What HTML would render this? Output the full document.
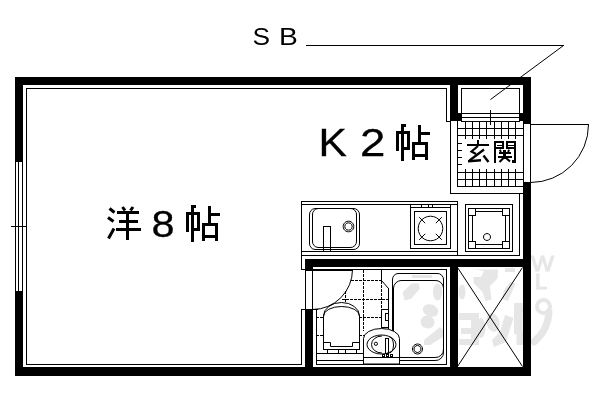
<!DOCTYPE html>
<html><head><meta charset="utf-8"><style>
html,body{margin:0;padding:0;background:#fff;width:600px;height:400px;overflow:hidden}
svg{display:block;filter:grayscale(1)}
text{font-family:"Liberation Sans",sans-serif;fill:#000}
</style></head><body>
<svg width="600" height="400" viewBox="0 0 600 400">
<rect width="600" height="400" fill="#fff"/>
<g fill="#e6e6e6"><rect x="412" y="275" width="20" height="3"/><polygon points="402.5,292.5 411.5,283.5 419,283.5 419.7,288.7 411.5,298.5 404.7,300.7"/><ellipse cx="437.5" cy="292" rx="4.5" ry="8.5" transform="rotate(0 437.5 292)"/><ellipse cx="462" cy="292" rx="3.5" ry="7.5" transform="rotate(0 462 292)"/><polygon points="475,269.5 498,269.5 497.5,278.5 490,286 491.5,299.5 485.5,301 482.5,292 473.5,283 473.5,277 481,277 484,271"/><polygon points="511,281.5 515.5,284 508,301 502,299 504,290"/><rect x="505" y="268" width="10" height="4"/><ellipse cx="518.5" cy="310" rx="4.5" ry="6" transform="rotate(0 518.5 310)"/><ellipse cx="430.5" cy="310.5" rx="8" ry="6" transform="rotate(20 430.5 310.5)"/><ellipse cx="427.5" cy="322" rx="7" ry="6.5" transform="rotate(20 427.5 322)"/><polygon points="424,340 440,327 443,330 443,337 430,345 424,345"/><rect x="459" y="313" width="20" height="7"/><rect x="471" y="313" width="8" height="32"/><rect x="461" y="328" width="18" height="6"/><rect x="459" y="339" width="20" height="6"/><ellipse cx="481" cy="328" rx="4.5" ry="10" transform="rotate(0 481 328)"/><ellipse cx="493" cy="322.5" rx="6.5" ry="9.5" transform="rotate(-15 493 322.5)"/><polygon points="505,315 513.5,318 506,342 494,347 492,340 500,332"/><polygon points="514,303 522.5,303 522.5,334 514,334"/><polygon points="516.5,331.5 524,331.5 524,345 516.5,345"/><path d="M534 342Q548 330 549 312" fill="none" stroke="#e6e6e6" stroke-width="7" stroke-linecap="round"/><circle cx="543.5" cy="306.5" r="6.5" fill="none" stroke="#e6e6e6" stroke-width="4"/><text x="531" y="270.5" font-size="22" style="fill:#e6e6e6" stroke="#e6e6e6" stroke-width="1" textLength="23" lengthAdjust="spacingAndGlyphs">W</text><text x="535" y="289" font-size="22" style="fill:#e6e6e6" stroke="#e6e6e6" stroke-width="1">L</text></g>
<g fill="#000" shape-rendering="crispEdges">
<rect x="306" y="45" width="258" height="1"/>
<rect x="15" y="77" width="516" height="8"/>
<rect x="15" y="77" width="8" height="85"/>
<rect x="15" y="291" width="8" height="85"/>
<rect x="15" y="367" width="516" height="9"/>
<rect x="523" y="77" width="8" height="47"/>
<rect x="523" y="182" width="8" height="194"/>
<rect x="450" y="77" width="8" height="44"/>
<rect x="450" y="113" width="12" height="8"/>
<rect x="519" y="113" width="5" height="8"/>
<rect x="305" y="259" width="226" height="8"/>
<rect x="305" y="259" width="8" height="12"/>
<rect x="312" y="270" width="41" height="1"/>
<rect x="305" y="309" width="8" height="67"/>
<rect x="450" y="259" width="8" height="117"/>
<rect x="26" y="88" width="421" height="1"/>
<rect x="26" y="88" width="1" height="277"/>
<rect x="26" y="364" width="276" height="1"/>
<rect x="446" y="88" width="1" height="34"/>
<rect x="446" y="121" width="5" height="1"/>
<rect x="15" y="162" width="1" height="129"/>
<rect x="18" y="162" width="1" height="129"/>
<rect x="22" y="162" width="1" height="129"/>
<rect x="11" y="226" width="16" height="1"/>
<rect x="461" y="88" width="59" height="1"/>
<rect x="461" y="88" width="1" height="26"/>
<rect x="519" y="88" width="1" height="26"/>
<rect x="461" y="113" width="59" height="1"/>
<rect x="461" y="117" width="59" height="1"/>
<rect x="461" y="121" width="59" height="1"/>
<rect x="490" y="110" width="1" height="15"/>
<rect x="450" y="121" width="1" height="73"/>
<rect x="457" y="121" width="1" height="66"/>
<rect x="457" y="186" width="67" height="1"/>
<rect x="450" y="193" width="74" height="1"/>
<rect x="519" y="193" width="1" height="63"/>
<rect x="523" y="121" width="1" height="66"/>
<rect x="465" y="121" width="1" height="18"/>
<rect x="465" y="169" width="1" height="18"/>
<rect x="472" y="121" width="1" height="18"/>
<rect x="472" y="169" width="1" height="18"/>
<rect x="479" y="121" width="1" height="18"/>
<rect x="479" y="169" width="1" height="18"/>
<rect x="486" y="121" width="1" height="18"/>
<rect x="486" y="169" width="1" height="18"/>
<rect x="494" y="121" width="1" height="18"/>
<rect x="494" y="169" width="1" height="18"/>
<rect x="501" y="121" width="1" height="18"/>
<rect x="501" y="169" width="1" height="18"/>
<rect x="508" y="121" width="1" height="18"/>
<rect x="508" y="169" width="1" height="18"/>
<rect x="515" y="121" width="1" height="18"/>
<rect x="515" y="169" width="1" height="18"/>
<rect x="457" y="128" width="67" height="1"/>
<rect x="457" y="135" width="67" height="1"/>
<rect x="457" y="172" width="67" height="1"/>
<rect x="457" y="179" width="67" height="1"/>
<rect x="457" y="143" width="5" height="1"/>
<rect x="457" y="150" width="5" height="1"/>
<rect x="457" y="157" width="5" height="1"/>
<rect x="457" y="164" width="5" height="1"/>
<rect x="523" y="124" width="1" height="59"/>
<rect x="530" y="124" width="1" height="59"/>
<rect x="530" y="124" width="59" height="1"/>
<rect x="301" y="201" width="157" height="1"/>
<rect x="301" y="204" width="157" height="1"/>
<rect x="301" y="201" width="1" height="69"/>
<rect x="457" y="201" width="1" height="55"/>
<rect x="301" y="251" width="157" height="1"/>
<rect x="301" y="255" width="219" height="1"/>
<rect x="301" y="269" width="5" height="1"/>
<rect x="323" y="226" width="1" height="25"/>
<rect x="330" y="226" width="1" height="25"/>
<rect x="323" y="226" width="8" height="1"/>
<rect x="410" y="204" width="41" height="1"/>
<rect x="410" y="248" width="41" height="1"/>
<rect x="410" y="204" width="1" height="45"/>
<rect x="450" y="204" width="1" height="45"/>
<rect x="410" y="207" width="41" height="1"/>
<rect x="421" y="204" width="1" height="4"/>
<rect x="428" y="204" width="1" height="4"/>
<rect x="432" y="204" width="1" height="4"/>
<rect x="414" y="211" width="33" height="1"/>
<rect x="414" y="244" width="33" height="1"/>
<rect x="414" y="211" width="1" height="34"/>
<rect x="446" y="211" width="1" height="34"/>
<rect x="465" y="204" width="48" height="1"/>
<rect x="465" y="251" width="48" height="1"/>
<rect x="465" y="204" width="1" height="48"/>
<rect x="512" y="204" width="1" height="48"/>
<rect x="468" y="208" width="42" height="1"/>
<rect x="468" y="248" width="42" height="1"/>
<rect x="468" y="208" width="1" height="41"/>
<rect x="509" y="208" width="1" height="41"/>
<rect x="468" y="208" width="8" height="1"/>
<rect x="468" y="215" width="8" height="1"/>
<rect x="468" y="208" width="1" height="8"/>
<rect x="475" y="208" width="1" height="8"/>
<rect x="502" y="208" width="8" height="1"/>
<rect x="502" y="215" width="8" height="1"/>
<rect x="502" y="208" width="1" height="8"/>
<rect x="509" y="208" width="1" height="8"/>
<rect x="468" y="241" width="8" height="1"/>
<rect x="468" y="248" width="8" height="1"/>
<rect x="468" y="241" width="1" height="8"/>
<rect x="475" y="241" width="1" height="8"/>
<rect x="502" y="241" width="8" height="1"/>
<rect x="502" y="248" width="8" height="1"/>
<rect x="502" y="241" width="1" height="8"/>
<rect x="509" y="241" width="1" height="8"/>
<rect x="472" y="215" width="1" height="27"/>
<rect x="505" y="215" width="1" height="27"/>
<rect x="475" y="211" width="28" height="1"/>
<rect x="475" y="244" width="28" height="1"/>
<rect x="312" y="269" width="135" height="1"/>
<rect x="446" y="269" width="1" height="96"/>
<rect x="316" y="364" width="131" height="1"/>
<rect x="316" y="309" width="1" height="56"/>
<rect x="305" y="271" width="1" height="39"/>
<rect x="312" y="271" width="1" height="39"/>
<rect x="301" y="309" width="17" height="1"/>
<rect x="301" y="309" width="1" height="56"/>
<rect x="363" y="270" width="1" height="3"/>
<rect x="363" y="274" width="1" height="3"/>
<rect x="363" y="278" width="1" height="3"/>
<rect x="363" y="282" width="1" height="3"/>
<rect x="363" y="286" width="1" height="3"/>
<rect x="363" y="290" width="1" height="3"/>
<rect x="363" y="294" width="1" height="3"/>
<rect x="363" y="298" width="1" height="3"/>
<rect x="363" y="302" width="1" height="3"/>
<rect x="363" y="306" width="1" height="3"/>
<rect x="363" y="310" width="1" height="3"/>
<rect x="363" y="314" width="1" height="3"/>
<rect x="363" y="318" width="1" height="3"/>
<rect x="363" y="322" width="1" height="3"/>
<rect x="363" y="326" width="1" height="3"/>
<rect x="363" y="330" width="1" height="1"/>
<rect x="351" y="280" width="3" height="1"/>
<rect x="355" y="280" width="3" height="1"/>
<rect x="359" y="280" width="3" height="1"/>
<rect x="363" y="280" width="3" height="1"/>
<rect x="367" y="280" width="3" height="1"/>
<rect x="371" y="280" width="3" height="1"/>
<rect x="375" y="280" width="3" height="1"/>
<rect x="379" y="280" width="3" height="1"/>
<rect x="381" y="269" width="1" height="12"/>
<rect x="388" y="288" width="1" height="43"/>
<rect x="381" y="281" width="1" height="3"/>
<rect x="381" y="285" width="1" height="3"/>
<rect x="381" y="289" width="1" height="3"/>
<rect x="381" y="293" width="1" height="3"/>
<rect x="381" y="297" width="1" height="3"/>
<rect x="381" y="301" width="1" height="3"/>
<rect x="381" y="305" width="1" height="3"/>
<rect x="381" y="309" width="1" height="1"/>
<rect x="381" y="309" width="8" height="1"/>
<rect x="381" y="327" width="8" height="1"/>
<rect x="381" y="309" width="1" height="19"/>
<rect x="388" y="309" width="1" height="19"/>
<rect x="385" y="313" width="4" height="1"/>
<rect x="385" y="320" width="4" height="1"/>
<rect x="385" y="313" width="1" height="8"/>
<rect x="388" y="313" width="1" height="8"/>
<rect x="342" y="299" width="3" height="1"/>
<rect x="346" y="299" width="3" height="1"/>
<rect x="350" y="299" width="3" height="1"/>
<rect x="354" y="299" width="3" height="1"/>
<rect x="358" y="299" width="3" height="1"/>
<rect x="362" y="299" width="3" height="1"/>
<rect x="366" y="299" width="3" height="1"/>
<rect x="370" y="299" width="3" height="1"/>
<rect x="374" y="299" width="3" height="1"/>
<rect x="378" y="299" width="3" height="1"/>
<rect x="382" y="299" width="3" height="1"/>
<rect x="386" y="299" width="3" height="1"/>
<rect x="345" y="291" width="1" height="3"/>
<rect x="345" y="295" width="1" height="3"/>
<rect x="345" y="299" width="1" height="3"/>
<rect x="316" y="317" width="3" height="1"/>
<rect x="320" y="317" width="3" height="1"/>
<rect x="359" y="317" width="3" height="1"/>
<rect x="363" y="317" width="3" height="1"/>
<rect x="367" y="317" width="3" height="1"/>
<rect x="371" y="317" width="3" height="1"/>
<rect x="375" y="317" width="3" height="1"/>
<rect x="379" y="317" width="3" height="1"/>
<rect x="316" y="335" width="3" height="1"/>
<rect x="320" y="335" width="3" height="1"/>
<rect x="359" y="335" width="3" height="1"/>
<rect x="363" y="335" width="1" height="1"/>
<rect x="316" y="353" width="48" height="1"/>
<rect x="316" y="360" width="48" height="1"/>
<rect x="323" y="349" width="37" height="1"/>
<rect x="327" y="349" width="1" height="5"/>
<rect x="338" y="349" width="1" height="5"/>
<rect x="345" y="349" width="1" height="5"/>
<rect x="356" y="349" width="1" height="5"/>
<rect x="401" y="124" width="3" height="37"/>
<rect x="404" y="124" width="2" height="3"/>
<rect x="396" y="131" width="14" height="3"/>
<rect x="396" y="131" width="3" height="20"/>
<rect x="407" y="131" width="3" height="19"/>
<rect x="404" y="147" width="3" height="3"/>
<rect x="418" y="125" width="3" height="18"/>
<rect x="421" y="132" width="9" height="3"/>
<rect x="412" y="142" width="16" height="3"/>
<rect x="412" y="142" width="3" height="18"/>
<rect x="425" y="142" width="3" height="18"/>
<rect x="412" y="154" width="16" height="3"/>
<rect x="191" y="205" width="3" height="37"/>
<rect x="194" y="205" width="2" height="3"/>
<rect x="186" y="212" width="14" height="3"/>
<rect x="186" y="212" width="3" height="20"/>
<rect x="197" y="212" width="3" height="19"/>
<rect x="194" y="228" width="3" height="3"/>
<rect x="208" y="206" width="3" height="18"/>
<rect x="211" y="213" width="9" height="3"/>
<rect x="202" y="223" width="16" height="3"/>
<rect x="202" y="223" width="3" height="18"/>
<rect x="215" y="223" width="3" height="18"/>
<rect x="202" y="235" width="16" height="3"/>
<rect x="117" y="211" width="22" height="3"/>
<rect x="119" y="220" width="19" height="3"/>
<rect x="116" y="228" width="25" height="3"/>
<rect x="126" y="211" width="3" height="29"/>
<rect x="477" y="140" width="2" height="5"/>
<rect x="467" y="144" width="22" height="2"/>
<rect x="494" y="141" width="2" height="22"/>
<rect x="514" y="141" width="2" height="22"/>
<rect x="512" y="160" width="3" height="3"/>
<rect x="494" y="141" width="10" height="2"/>
<rect x="506" y="141" width="10" height="2"/>
<rect x="502" y="141" width="2" height="8"/>
<rect x="506" y="141" width="2" height="8"/>
<rect x="497" y="145" width="6" height="1"/>
<rect x="494" y="147" width="10" height="2"/>
<rect x="507" y="145" width="8" height="1"/>
<rect x="506" y="147" width="10" height="2"/>
<rect x="499" y="152" width="12" height="2"/>
<rect x="498" y="156" width="14" height="2"/>
<rect x="503" y="150" width="3" height="9"/>
</g>
<g fill="none" stroke="#000">
<path d="M563.5 45.5L490.5 99.5" stroke-width="1"/>
<path d="M588.5 124.5A58 58 0 0 1 530.5 182.5" stroke-width="1"/>
<path d="M315 208.5H353A6 6 0 0 1 359.5 215V243A6 6 0 0 1 353 249.5H315A6 6 0 0 1 309.5 243V215A6 6 0 0 1 315 208.5Z" stroke-width="1"/>
<path d="M318 208.5H350A6 6 0 0 1 356.5 215V241A6 6 0 0 1 350 247.5H318A6 6 0 0 1 312.5 241V215A6 6 0 0 1 318 208.5Z" stroke-width="1"/>
<path d="M348.5 221.2A5.3 5.3 0 1 1 348.49 221.2Z" stroke-width="1"/>
<path d="M348.5 222.8A3.7 3.7 0 1 1 348.49 222.8Z" stroke-width="1"/>
<path d="M430.5 216.2A12.3 12.3 0 1 1 430.49 216.2Z" stroke-width="1"/>
<path d="M435.80 233.80L441.81 239.81" stroke-width="1"/>
<path d="M425.20 233.80L419.19 239.81" stroke-width="1"/>
<path d="M425.20 223.20L419.19 217.19" stroke-width="1"/>
<path d="M435.80 223.20L441.81 217.19" stroke-width="1"/>
<path d="M487 233.5A3.5 3.5 0 1 1 486.99 233.5Z" stroke-width="1"/>
<path d="M352.5 269.5A40 40 0 0 1 312.5 309.5" stroke-width="1"/>
<path d="M381.5 280.5L388.5 288.5" stroke-width="1"/>
<path d="M323.5 349.5V316A18 13.5 0 0 1 359.5 316V349.5H323.5Z" stroke-width="1"/>
<path d="M323.5 316A18 9.5 0 0 1 359.5 316" stroke-width="1"/>
<path d="M323.5 342.5H330.5V346.5H352.5V342.5H359.5" stroke-width="1"/>
<path d="M398 273.5H437A6 6 0 0 1 443.5 280V352A8 8 0 0 1 435 360.5H398.5A6 6 0 0 1 392.5 354V280A6 6 0 0 1 398 273.5Z" stroke-width="1"/>
<path d="M401 280.5H435A8 8 0 0 1 443.5 288V349A8 8 0 0 1 435 357.5H401A8 8 0 0 1 393.5 350V288A8 8 0 0 1 401 280.5Z" stroke-width="1"/>
<path d="M417.5 344A5 5 0 1 1 417.49 344Z" stroke-width="1"/>
<path d="M417.5 345.5A3.5 3.5 0 1 1 417.49 345.5Z" stroke-width="1"/>
<path d="M457.5 267.5L522.5 366.5" stroke-width="1"/>
<path d="M522.5 267.5L457.5 366.5" stroke-width="1"/>
<path d="M109.5 208.5L114.5 212.5" stroke-width="3"/>
<path d="M108 217.5L113.5 221.5" stroke-width="3"/>
<path d="M114 228.5L108.5 238.5" stroke-width="3"/>
<path d="M122.5 207L125 210.5" stroke-width="3"/>
<path d="M133 207L130.5 210.5" stroke-width="3"/>
<path d="M478 146L471.5 151.5L476 154" stroke-width="2.2"/>
<path d="M484 149.5L469.5 160.5" stroke-width="2.2"/>
<path d="M468 161.2L481 160.2" stroke-width="2.4"/>
<path d="M483.5 155.5L488.5 162" stroke-width="2.4"/>
<path d="M499.8 149.8L501 152" stroke-width="1.8"/>
<path d="M509.2 149.8L508 152" stroke-width="1.8"/>
<path d="M504 157.5L499.5 162" stroke-width="2.2"/>
<path d="M505.5 157.5L510 161.5" stroke-width="2.2"/>
</g>
<path d="M363.5 364V338.5A18 10 0 0 1 399.5 338.5V364Z" fill="#fff" stroke="#000"/><rect x="363" y="357" width="37" height="1" fill="#000"/><path d="M381.5 335A14.5 9.5 0 1 1 381.49 335Z" fill="none" stroke="#000"/><path d="M371.5 344.5A10.5 8.5 0 0 1 382 336M371.5 344.5A10.5 8.5 0 0 0 382 353M389.5 337A4 8 0 0 1 389.5 353" fill="none" stroke="#000"/><rect x="385.5" y="338.5" width="3" height="15" fill="none" stroke="#000"/><circle cx="375.9" cy="343.8" r="1.6" fill="none" stroke="#000"/><rect x="382.5" y="354.5" width="2" height="2" fill="none" stroke="#000"/><rect x="386.5" y="354.5" width="2" height="2" fill="none" stroke="#000"/><rect x="390.5" y="354.5" width="2" height="2" fill="none" stroke="#000"/>
<text transform="translate(252.5 45) scale(1.12 1)" font-size="23.5">S</text><text transform="translate(279 45) scale(1.2 1)" font-size="23.5">B</text><text transform="translate(318.5 156) scale(1.12 1)" font-size="38" stroke="#000" stroke-width="0.3">K</text><text transform="translate(360 156) scale(1.2 1)" font-size="38" stroke="#000" stroke-width="0.3">2</text><text transform="translate(151.5 236.6) scale(1.12 1)" font-size="37" stroke="#000" stroke-width="0.3">8</text>
</svg>
</body></html>
